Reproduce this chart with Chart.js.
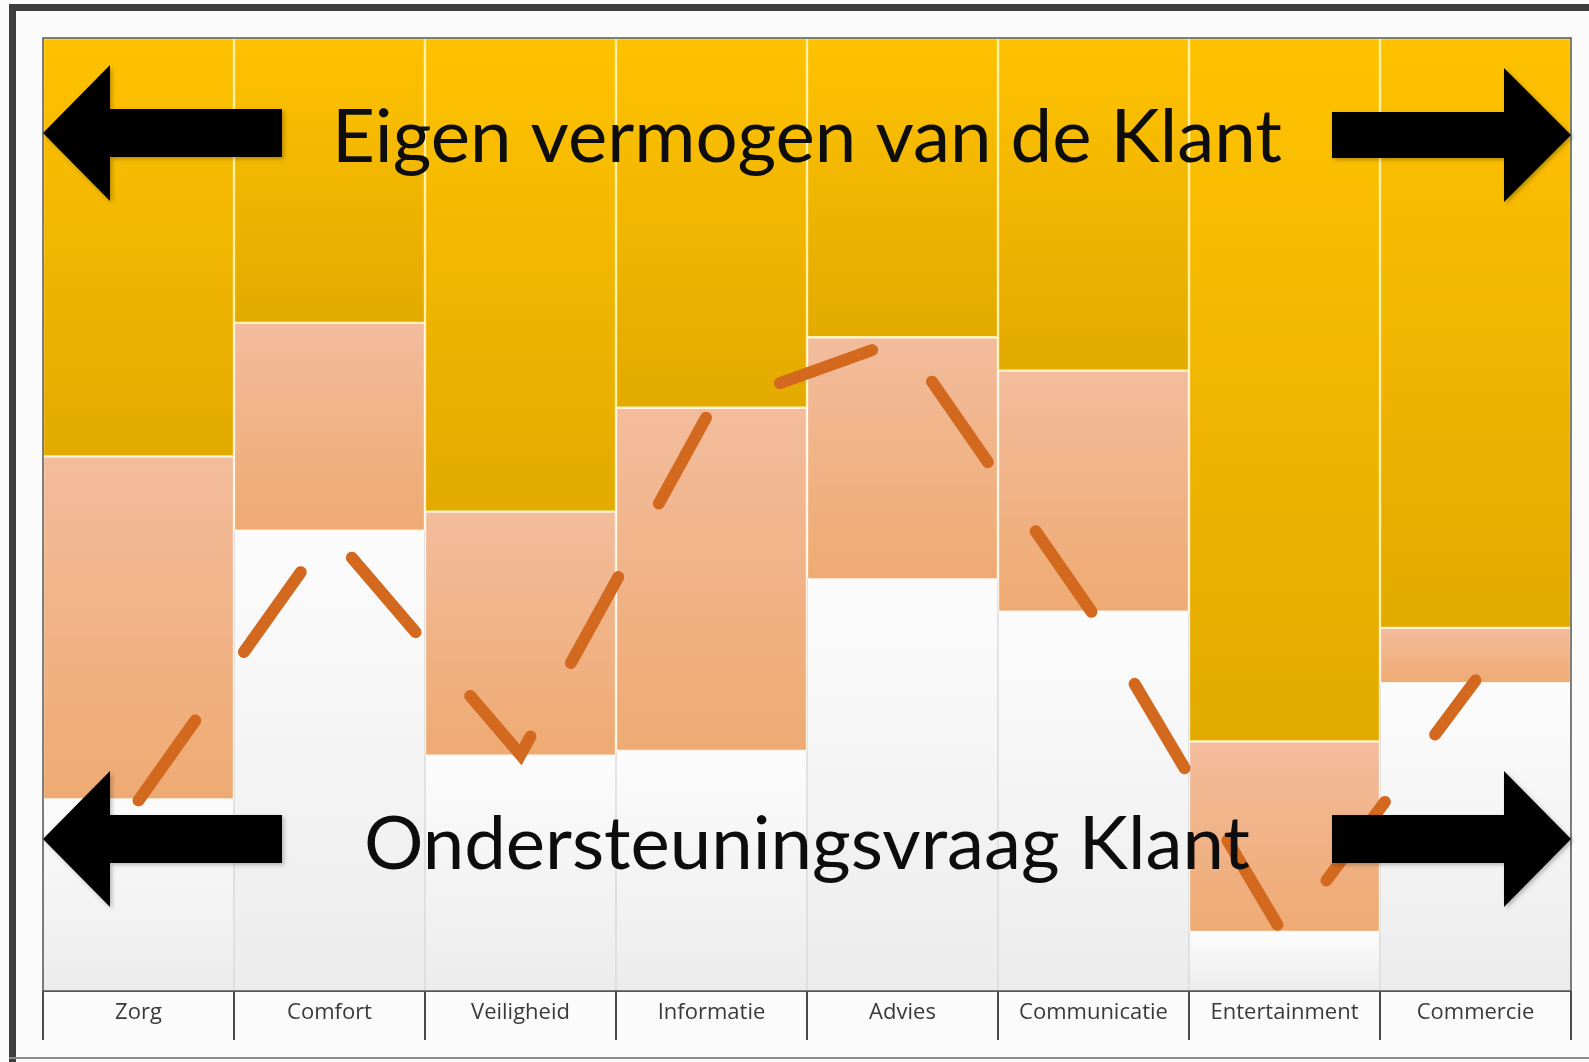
<!DOCTYPE html>
<html>
<head>
    <title>Eigen vermogen vs Ondersteuningsvraag</title>
    <script src="https://cdn.jsdelivr.net/npm/chart.js"></script>
    <style>
        body {
            margin: 0;
            background: #fff;
        }
        #chart {
            display: block;
        }
    </style>
</head>
<body>
    <canvas id="chart" width="1589" height="1062"></canvas>

    <script>
        const categories = ["Zorg", "Comfort", "Veiligheid", "Informatie", "Advies", "Communicatie", "Entertainment", "Commercie"];
        // share of each column (0-100), bottom to top
        const ondersteuning = [20.1, 48.3, 24.7, 25.2, 43.2, 39.8, 6.2, 32.3];
        const overlap = [36.0, 21.8, 25.6, 36.0, 25.4, 25.3, 20.0, 5.8];
        const eigenVermogen = [43.9, 29.9, 49.7, 38.8, 31.4, 34.9, 73.8, 61.9];
        const grens = [20.0, 48.2, 24.8, 61.2, 68.4, 39.5, 5.7, 32.6];

        const TOP_TEXT = "Eigen vermogen van de Klant";
        const BOTTOM_TEXT = "Ondersteuningsvraag Klant";

        const stacks = [ondersteuning, overlap, eigenVermogen];

        // vertical gradient per segment, lighter at its top
        function segmentFill(level, topColor, bottomColor) {
            return function (c) {
                const chart = c.chart;
                if (!chart.chartArea || c.type !== "data") return bottomColor;
                const y = chart.scales.y;
                let base = 0;
                for (let k = 0; k < level; k++) base += stacks[k][c.dataIndex];
                const yTop = y.getPixelForValue(base + stacks[level][c.dataIndex]);
                const yBottom = y.getPixelForValue(base);
                if (!isFinite(yTop) || !isFinite(yBottom) || yTop === yBottom) return bottomColor;
                const g = chart.ctx.createLinearGradient(0, yTop, 0, yBottom);
                g.addColorStop(0, topColor);
                g.addColorStop(1, bottomColor);
                return g;
            };
        }

        function arrow(ctx, tipX, tailX, headX, cy, shaftHalf, headHalf) {
            ctx.beginPath();
            ctx.moveTo(tipX, cy);
            ctx.lineTo(headX, cy - headHalf);
            ctx.lineTo(headX, cy - shaftHalf);
            ctx.lineTo(tailX, cy - shaftHalf);
            ctx.lineTo(tailX, cy + shaftHalf);
            ctx.lineTo(headX, cy + shaftHalf);
            ctx.lineTo(headX, cy + headHalf);
            ctx.closePath();
            ctx.fill();
        }

        function bigText(ctx, text, cx, baseline, targetWidth) {
            ctx.save();
            ctx.font = "73px Lato";
            ctx.textAlign = "center";
            ctx.textBaseline = "alphabetic";
            ctx.fillStyle = "#0d0d0d";
            const w = ctx.measureText(text).width;
            ctx.translate(cx, baseline);
            ctx.scale(targetWidth / w, 1);
            ctx.fillText(text, 0, 0);
            ctx.restore();
        }

        const framePlugin = {
            id: "frame",
            beforeDraw(chart) {
                const ctx = chart.ctx;
                ctx.save();
                ctx.fillStyle = "#fbfbfb";
                ctx.fillRect(0, 0, chart.width, chart.height);
                ctx.fillStyle = "#3d3d3d";
                ctx.fillRect(9, 4, 7, chart.height - 4);
                ctx.fillRect(9, 4, chart.width - 9, 7);
                ctx.fillStyle = "#8a8a8a";
                ctx.fillRect(9, 1057, chart.width - 9, 2);
                ctx.restore();
            },
            afterDatasetsDraw(chart) {
                const ctx = chart.ctx;
                const a = chart.chartArea;
                ctx.save();
                ctx.strokeStyle = "#555";
                ctx.lineWidth = 1.5;
                ctx.strokeRect(a.left, a.top, a.right - a.left, a.bottom - a.top);

                ctx.fillStyle = "#000";
                ctx.shadowColor = "rgba(0,0,0,0.25)";
                ctx.shadowBlur = 4;
                ctx.shadowOffsetX = 2;
                ctx.shadowOffsetY = 2;
                // top arrows
                arrow(ctx, a.left, a.left + 239, a.left + 67, 133, 24, 68);
                arrow(ctx, a.right, a.right - 239, a.right - 67, 135, 23, 67);
                // bottom arrows
                arrow(ctx, a.left, a.left + 239, a.left + 67, 839, 24, 68);
                arrow(ctx, a.right, a.right - 239, a.right - 67, 839, 24, 68);
                ctx.restore();

                const cx = (a.left + a.right) / 2;
                bigText(ctx, TOP_TEXT, cx, 162, 950);
                bigText(ctx, BOTTOM_TEXT, cx, 869, 886);
            }
        };

        new Chart(document.getElementById("chart"), {
            type: "bar",
            data: {
                labels: categories,
                datasets: [
                    {
                        type: "line",
                        label: "Grens",
                        data: grens,
                        stack: "grens",
                        order: 0,
                        borderColor: "#D2691F",
                        borderWidth: 12,
                        borderDash: [98, 84],
                        borderCapStyle: "round",
                        pointRadius: 0,
                        tension: 0,
                        fill: false
                    },
                    {
                        label: BOTTOM_TEXT,
                        data: ondersteuning,
                        stack: "s",
                        order: 1,
                        backgroundColor: segmentFill(0, "#fcfcfc", "#ececec"),
                        borderColor: "#d8d8d8",
                        borderWidth: { left: 1, right: 1, top: 0, bottom: 0 }
                    },
                    {
                        label: "Overlap",
                        data: overlap,
                        stack: "s",
                        order: 1,
                        backgroundColor: segmentFill(1, "#f3bc9c", "#eeaa72"),
                        borderColor: "#fff6e6",
                        borderWidth: 1.5
                    },
                    {
                        label: TOP_TEXT,
                        data: eigenVermogen,
                        stack: "s",
                        order: 1,
                        backgroundColor: segmentFill(2, "#ffc200", "#e3aa00"),
                        borderColor: "#fff2a8",
                        borderWidth: 1.5
                    }
                ]
            },
            options: {
                responsive: false,
                animation: false,
                layout: {
                    padding: { left: 43, right: 18, top: 38, bottom: 22 }
                },
                datasets: {
                    bar: {
                        barPercentage: 1,
                        categoryPercentage: 1,
                        borderSkipped: false
                    }
                },
                plugins: {
                    legend: { display: false },
                    tooltip: { enabled: false }
                },
                scales: {
                    x: {
                        stacked: true,
                        grid: {
                            offset: true,
                            drawOnChartArea: false,
                            tickLength: 49,
                            color: "#4a4a4a",
                            lineWidth: 2
                        },
                        border: { display: true, color: "#555", width: 2 },
                        ticks: {
                            padding: -40,
                            color: "#3a3a3a",
                            font: { family: "Open Sans", size: 22 },
                            maxRotation: 0,
                            autoSkip: false
                        },
                        afterFit(scale) {
                            scale.height = 49;
                        }
                    },
                    y: {
                        stacked: true,
                        display: false,
                        min: 0,
                        max: 100
                    }
                }
            },
            plugins: [framePlugin]
        });
    </script>
</body>
</html>
